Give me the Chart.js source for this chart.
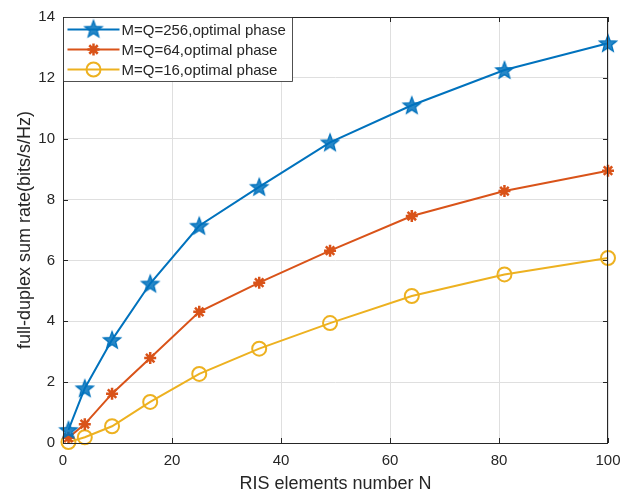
<!DOCTYPE html>
<html>
<head>
<meta charset="utf-8">
<script src="https://cdn.jsdelivr.net/npm/chart.js@4/dist/chart.umd.min.js"></script>
<style>
  html, body { margin: 0; padding: 0; background: #fff; }
  canvas { display: block; }
</style>
</head>
<body>
<canvas id="chart" width="630" height="495"></canvas>
<script>
// data
const nValues = [1, 4, 9, 16, 25, 36, 49, 64, 81, 100]
const rate256 = [0.43, 1.80, 3.39, 5.24, 7.14, 8.42, 9.88, 11.10, 12.26, 13.14]
const rate64 = [0.17, 0.62, 1.62, 2.79, 4.31, 5.27, 6.32, 7.46, 8.28, 8.95]
const rate16 = [0.03, 0.19, 0.55, 1.35, 2.27, 3.10, 3.94, 4.83, 5.54, 6.08]
const seriesLabels = ['M=Q=256,optimal phase', 'M=Q=64,optimal phase', 'M=Q=16,optimal phase']

const blue = '#0072BD'
const orange = '#D95319'
const yellow = '#EDB120'
const textColor = '#262626'
const fontFamily = '"Liberation Sans", Arial, Helvetica, sans-serif'

function makeStar() {
    const c = document.createElement('canvas')
    c.width = 22
    c.height = 22
    const g = c.getContext('2d')
    g.beginPath()
    for (let i = 0; i < 10; i++) {
        const r = i % 2 ? 3.8 : 9
        const a = -Math.PI / 2 + i * Math.PI / 5
        g.lineTo(11 + r * Math.cos(a), 11.8 + r * Math.sin(a))
    }
    g.closePath()
    g.fillStyle = 'rgba(0,114,189,0.85)'
    g.fill()
    g.lineWidth = 1.3
    g.strokeStyle = blue
    g.stroke()
    return c
}
const starImg = makeStar()

function toPoints(ys) {
    return nValues.map((n, i) => ({ x: n, y: ys[i] }))
}

const series = [
    { label: seriesLabels[0], data: rate256, color: blue, pointStyle: starImg, radius: 9, width: 2 },
    { label: seriesLabels[1], data: rate64, color: orange, pointStyle: 'star', radius: 6, width: 2.5 },
    { label: seriesLabels[2], data: rate16, color: yellow, pointStyle: 'circle', radius: 7, width: 2 }
]

// box, inward ticks and the legend, matlab style
const framePlugin = {
    id: 'frame',
    afterDraw(chart) {
        const ctx = chart.ctx
        const a = chart.chartArea
        const xs = chart.scales.x
        const ys = chart.scales.y
        ctx.save()
        ctx.strokeStyle = textColor
        ctx.lineWidth = 1
        ctx.strokeRect(a.left + 0.5, a.top + 0.5, a.right - a.left - 1, a.bottom - a.top)
        ctx.beginPath()
        xs.ticks.forEach(t => {
            const px = Math.round(xs.getPixelForValue(t.value)) + 0.5
            ctx.moveTo(px, a.bottom); ctx.lineTo(px, a.bottom - 5)
            ctx.moveTo(px, a.top); ctx.lineTo(px, a.top + 5)
        })
        ys.ticks.forEach(t => {
            const py = Math.round(ys.getPixelForValue(t.value)) + 0.5
            ctx.moveTo(a.left, py); ctx.lineTo(a.left + 5, py)
            ctx.moveTo(a.right, py); ctx.lineTo(a.right - 5, py)
        })
        ctx.stroke()

        // legend
        const lx = a.left + 0.5, ly = a.top + 0.5, lw = 229, lh = 64
        ctx.fillStyle = '#fff'
        ctx.fillRect(lx, ly, lw, lh)
        ctx.strokeStyle = textColor
        ctx.lineWidth = 0.8
        ctx.strokeRect(lx, ly, lw, lh)
        ctx.font = '15px ' + fontFamily
        ctx.textBaseline = 'middle'
        series.forEach((s, i) => {
            const cy = ly + 12 + i * 20
            ctx.strokeStyle = s.color
            ctx.lineWidth = 2
            ctx.beginPath()
            ctx.moveTo(lx + 4, cy); ctx.lineTo(lx + 56, cy)
            ctx.stroke()
            const mx = lx + 30
            if (i === 0) {
                ctx.drawImage(starImg, mx - 11, cy - 11.8)
            } else if (i === 1) {
                const r = 6
                ctx.lineWidth = 2.5
                ctx.beginPath()
                ctx.moveTo(mx - r, cy); ctx.lineTo(mx + r, cy)
                ctx.moveTo(mx, cy - r); ctx.lineTo(mx, cy + r)
                const d = r * Math.SQRT1_2
                ctx.moveTo(mx - d, cy - d); ctx.lineTo(mx + d, cy + d)
                ctx.moveTo(mx - d, cy + d); ctx.lineTo(mx + d, cy - d)
                ctx.stroke()
            } else {
                ctx.beginPath()
                ctx.arc(mx, cy, 7, 0, Math.PI * 2)
                ctx.stroke()
            }
            ctx.fillStyle = textColor
            ctx.fillText(s.label, lx + 58, cy + 1)
        })
        ctx.restore()
    }
}

const ctx = document.getElementById('chart').getContext('2d')

const chart = new Chart(ctx, {
    type: 'line',
    data: {
        datasets: series.map(s => ({
            label: s.label,
            data: toPoints(s.data),
            borderColor: s.color,
            backgroundColor: 'transparent',
            borderWidth: 2,
            pointStyle: s.pointStyle,
            pointRadius: s.radius,
            pointBorderColor: s.color,
            pointBorderWidth: s.width,
            pointBackgroundColor: 'transparent',
            tension: 0,
            clip: false
        }))
    },
    options: {
        responsive: false,
        animation: false,
        devicePixelRatio: 1,
        layout: { padding: { top: 12, right: 22, left: 0, bottom: 0 } },
        plugins: {
            legend: { display: false },
            tooltip: { enabled: false }
        },
        scales: {
            x: {
                type: 'linear',
                min: 0,
                max: 100,
                afterFit(scale) { scale.height = 52 },
                ticks: {
                    stepSize: 20,
                    padding: 9,
                    color: textColor,
                    font: { size: 15, family: fontFamily }
                },
                grid: { color: '#dfdfdf', drawTicks: false },
                border: { display: false },
                title: {
                    display: true,
                    text: 'RIS elements number N',
                    color: textColor,
                    padding: { top: 0, bottom: 0 },
                    font: { size: 18, family: fontFamily }
                }
            },
            y: {
                min: 0,
                max: 14,
                afterFit(scale) { scale.width = 63 },
                ticks: {
                    stepSize: 2,
                    padding: 8,
                    color: textColor,
                    font: { size: 15, family: fontFamily }
                },
                grid: { color: '#dfdfdf', drawTicks: false },
                border: { display: false },
                title: {
                    display: true,
                    text: 'full-duplex sum rate(bits/s/Hz)',
                    color: textColor,
                    padding: { top: 14, bottom: 14 },
                    font: { size: 18, family: fontFamily }
                }
            }
        }
    },
    plugins: [framePlugin]
})
</script>
</body>
</html>
